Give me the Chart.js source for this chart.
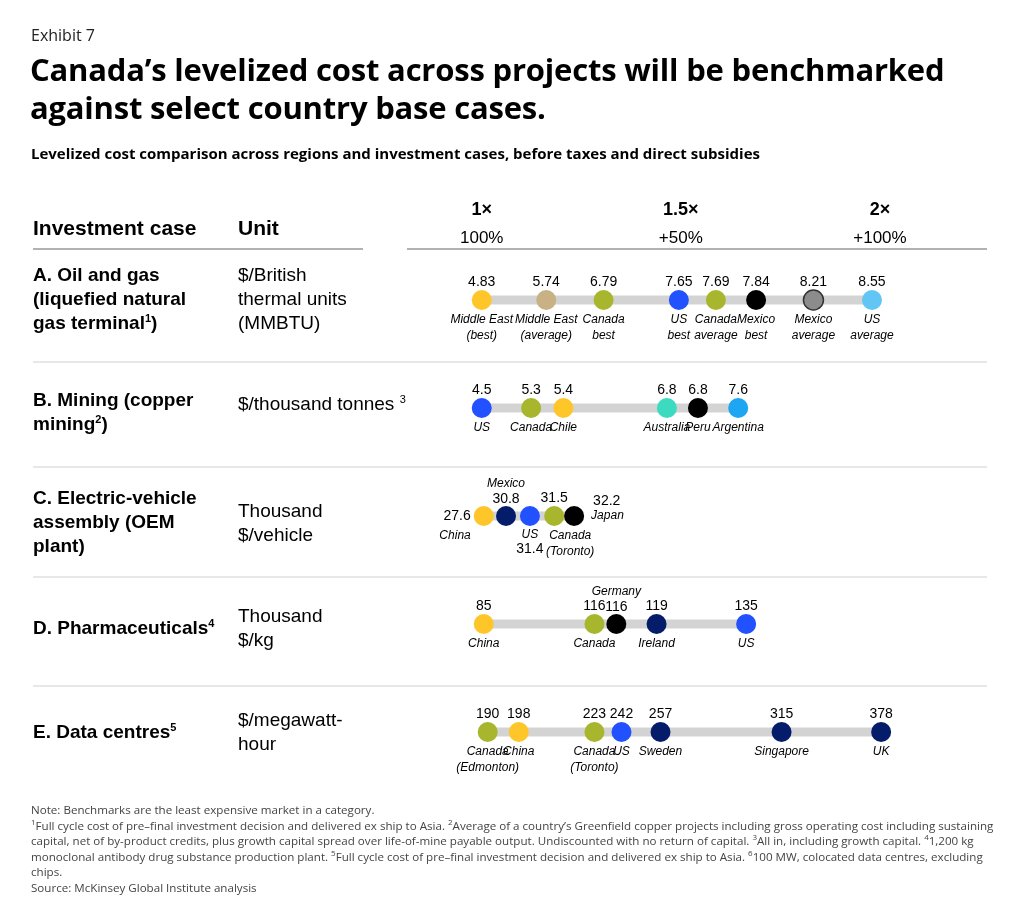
<!DOCTYPE html>
<html><head><meta charset="utf-8">
<script src="https://cdn.jsdelivr.net/npm/chart.js@4"></script>
<style>
body{margin:0;background:#fff;font-family:"Liberation Sans",Arial,sans-serif;color:#000}
#wrap{position:relative;width:1024px;height:900px;overflow:hidden}
canvas{position:absolute;left:0;top:0}
.t{position:absolute;z-index:2}
.lab{font-weight:bold;font-size:19px;line-height:24px}
.unit{font-size:19px;line-height:24px}
sup{font-size:11px;line-height:0}
.fn sup{font-size:8px;line-height:0}
</style></head><body>
<div id="wrap">
<canvas id="c" width="1024" height="900"></canvas>
<div class="t" style="left:31px;top:24px;font-size:16px;color:#222;font-family:'Open Sans',sans-serif">Exhibit 7</div>
<div class="t" style="left:30px;top:50px;font-size:31px;font-weight:bold;line-height:38px;font-family:'Open Sans',sans-serif;letter-spacing:-0.2px">Canada’s levelized cost across projects will be benchmarked<br>against select country base cases.</div>
<div class="t" style="left:31px;top:143px;font-size:15px;font-weight:bold;font-family:'Open Sans',sans-serif">Levelized cost comparison across regions and investment cases, before taxes and direct subsidies</div>
<div class="t lab" style="left:33px;top:216px;font-size:21px">Investment case</div>
<div class="t lab" style="left:238px;top:216px;font-size:21px">Unit</div>
<div class="t lab" style="left:33px;top:263px">A. Oil and gas<br>(liquefied natural<br>gas terminal<sup>1</sup>)</div>
<div class="t unit" style="left:238px;top:263px">$/British<br>thermal units<br>(MMBTU)</div>
<div class="t lab" style="left:33px;top:388px">B. Mining (copper<br>mining<sup>2</sup>)</div>
<div class="t unit" style="left:238px;top:392px">$/thousand tonnes <sup>3</sup></div>
<div class="t lab" style="left:33px;top:486px">C. Electric-vehicle<br>assembly (OEM<br>plant)</div>
<div class="t unit" style="left:238px;top:499px">Thousand<br>$/vehicle</div>
<div class="t lab" style="left:33px;top:616px">D. Pharmaceuticals<sup>4</sup></div>
<div class="t unit" style="left:238px;top:604px">Thousand<br>$/kg</div>
<div class="t lab" style="left:33px;top:720px">E. Data centres<sup>5</sup></div>
<div class="t unit" style="left:238px;top:708px">$/megawatt-<br>hour</div>
<div class="t fn" style="left:31px;top:802px;width:965px;font-size:11.6px;line-height:15.5px;color:#444;font-family:'Open Sans',sans-serif">Note: Benchmarks are the least expensive market in a category.<br><sup>1</sup>Full cycle cost of pre–final investment decision and delivered ex ship to Asia. <sup>2</sup>Average of a country’s Greenfield copper projects including gross operating cost including sustaining capital, net of by-product credits, plus growth capital spread over life-of-mine payable output. Undiscounted with no return of capital. <sup>3</sup>All in, including growth capital. <sup>4</sup>1,200 kg monoclonal antibody drug substance production plant. <sup>5</sup>Full cycle cost of pre–final investment decision and delivered ex ship to Asia. <sup>6</sup>100 MW, colocated data centres, excluding chips.<br>Source: McKinsey Global Institute analysis</div>
</div>
<script>
// values as labelled, positions on the relative cost scale (1x .. 2x)
const valsA = ['4.83','5.74','6.79','7.65','7.69','7.84','8.21','8.55'];
const posA = [1.0, 1.162, 1.306, 1.495, 1.588, 1.689, 1.833, 1.98];
const namesA = ['Middle East\n(best)','Middle East\n(average)','Canada\nbest','US\nbest','Canada\naverage','Mexico\nbest','Mexico\naverage','US\naverage'];
const colsA = ['#FFC629','#C7B185','#A7B62C','#2251FF','#A7B62C','#000000','#8C8C8C','#62C6F5'];

const valsB = ['4.5','5.3','5.4','6.8','6.8','7.6'];
const posB = [1.0, 1.124, 1.205, 1.465, 1.543, 1.644];
const namesB = ['US','Canada','Chile','Australia','Peru','Argentina'];
const colsB = ['#2251FF','#A7B62C','#FFC629','#3CDBC0','#000000','#1EA6F2'];

const valsC = ['27.6','30.8','31.4','31.5','32.2'];
const posC = [1.005, 1.061, 1.121, 1.182, 1.232];
const namesC = ['China','Mexico','US','Canada\n(Toronto)','Japan'];
const colsC = ['#FFC629','#051C6B','#2251FF','#A7B62C','#000000'];
const placeC = ['left','above','below','stdR','right'];

const valsD = ['85','116','116','119','135'];
const posD = [1.005, 1.283, 1.338, 1.439, 1.664];
const namesD = ['China','Canada','Germany','Ireland','US'];
const colsD = ['#FFC629','#A7B62C','#000000','#051C6B','#2251FF'];
const placeD = ['std','std','above','std','std'];

const valsE = ['190','198','223','242','257','315','378'];
const posE = [1.015, 1.093, 1.283, 1.351, 1.449, 1.753, 2.003];
const namesE = ['Canada\n(Edmonton)','China','Canada\n(Toronto)','US','Sweden','Singapore','UK'];
const colsE = ['#A7B62C','#FFC629','#A7B62C','#2251FF','#051C6B','#051C6B','#051C6B'];

const scaleTicks = [1, 1.5, 2];
const scaleTop = ['1×','1.5×','2×'];
const scaleSub = ['100%','+50%','+100%'];

const rows = [
  {pos: posA, vals: valsA, names: namesA, cols: colsA},
  {pos: posB, vals: valsB, names: namesB, cols: colsB},
  {pos: posC, vals: valsC, names: namesC, cols: colsC, place: placeC},
  {pos: posD, vals: valsD, names: namesD, cols: colsD, place: placeD},
  {pos: posE, vals: valsE, names: namesE, cols: colsE}
];

const datasets = [];
rows.forEach((r, i) => {
  datasets.push({type: 'line', data: [{x: Math.min(...r.pos), y: i}, {x: Math.max(...r.pos), y: i}],
    borderColor: '#d3d3d3', borderWidth: 9, pointRadius: 0, order: 2});
  datasets.push({type: 'scatter', data: r.pos.map(p => ({x: p, y: i})), rowIndex: i,
    backgroundColor: r.cols, pointRadius: 10, pointHoverRadius: 10,
    borderColor: r.cols.map(c => c === '#8C8C8C' ? '#333' : c), borderWidth: r.cols.map(c => c === '#8C8C8C' ? 1.5 : 0),
    order: 1});
});

const decor = {
  id: 'decor',
  beforeDraw(chart) {
    const {ctx} = chart;
    const xs = chart.scales.x;
    ctx.save();
    ctx.strokeStyle = '#999'; ctx.lineWidth = 1.5;
    ctx.beginPath(); ctx.moveTo(33, 249); ctx.lineTo(363, 249); ctx.moveTo(407, 249); ctx.lineTo(987, 249); ctx.stroke();
    ctx.strokeStyle = '#cfcfcf'; ctx.lineWidth = 1.2;
    [362, 467, 577, 686].forEach(y => { ctx.beginPath(); ctx.moveTo(33, y); ctx.lineTo(987, y); ctx.stroke(); });
    ctx.fillStyle = '#000'; ctx.textAlign = 'center'; ctx.textBaseline = 'alphabetic';
    scaleTicks.forEach((t, k) => {
      const px = xs.getPixelForValue(t);
      ctx.font = 'bold 18px "Liberation Sans", Arial';
      ctx.fillText(scaleTop[k], px, 215);
      ctx.font = '17px "Liberation Sans", Arial';
      ctx.fillText(scaleSub[k], px, 243);
    });
    ctx.restore();
  },
  afterDatasetsDraw(chart) {
    const {ctx} = chart;
    ctx.save();
    ctx.fillStyle = '#000'; ctx.textBaseline = 'middle';
    chart.data.datasets.forEach((ds, di) => {
      if (ds.type !== 'scatter') return;
      const r = rows[ds.rowIndex];
      chart.getDatasetMeta(di).data.forEach((pt, k) => {
        const place = (r.place && r.place[k]) || 'std';
        const val = r.vals[k], lines = r.names[k].split('\n');
        const vFont = '14px "Liberation Sans", Arial', nFont = 'italic 12px "Liberation Sans", Arial';
        const x = pt.x, y = pt.y;
        ctx.textAlign = 'center';
        if (place === 'std' || place === 'stdR') {
          ctx.font = vFont; ctx.fillText(val, x, y - 18);
          const nx = place === 'stdR' ? x + 16 : x;
          ctx.font = nFont; lines.forEach((l, j) => ctx.fillText(l, nx, y + 20 + j * 16));
        } else if (place === 'above') {
          ctx.font = nFont; ctx.fillText(lines[0], x, y - 32);
          ctx.font = vFont; ctx.fillText(val, x, y - 17);
        } else if (place === 'below') {
          ctx.font = nFont; ctx.fillText(lines[0], x, y + 19);
          ctx.font = vFont; ctx.fillText(val, x, y + 33);
        } else if (place === 'left') {
          ctx.textAlign = 'right';
          ctx.font = vFont; ctx.fillText(val, x - 13, y);
          ctx.font = nFont; ctx.fillText(lines[0], x - 13, y + 20);
        } else if (place === 'right') {
          ctx.textAlign = 'left';
          ctx.font = vFont; ctx.fillText(val, x + 19, y - 15);
          ctx.font = nFont; ctx.fillText(lines[0], x + 17, y);
        }
      });
    });
    ctx.restore();
  }
};

new Chart(document.getElementById('c').getContext('2d'), {
  type: 'scatter',
  data: {datasets},
  options: {
    responsive: false,
    animation: false,
    devicePixelRatio: 1,
    layout: {padding: {left: 422, right: 44.5, top: 246, bottom: 114}},
    plugins: {legend: {display: false}, tooltip: {enabled: false}},
    scales: {
      x: {type: 'linear', display: false, min: 0.85, max: 2.25},
      y: {type: 'linear', display: false, min: -0.5, max: 4.5, reverse: true}
    }
  },
  plugins: [decor]
});
</script>
</body></html>
